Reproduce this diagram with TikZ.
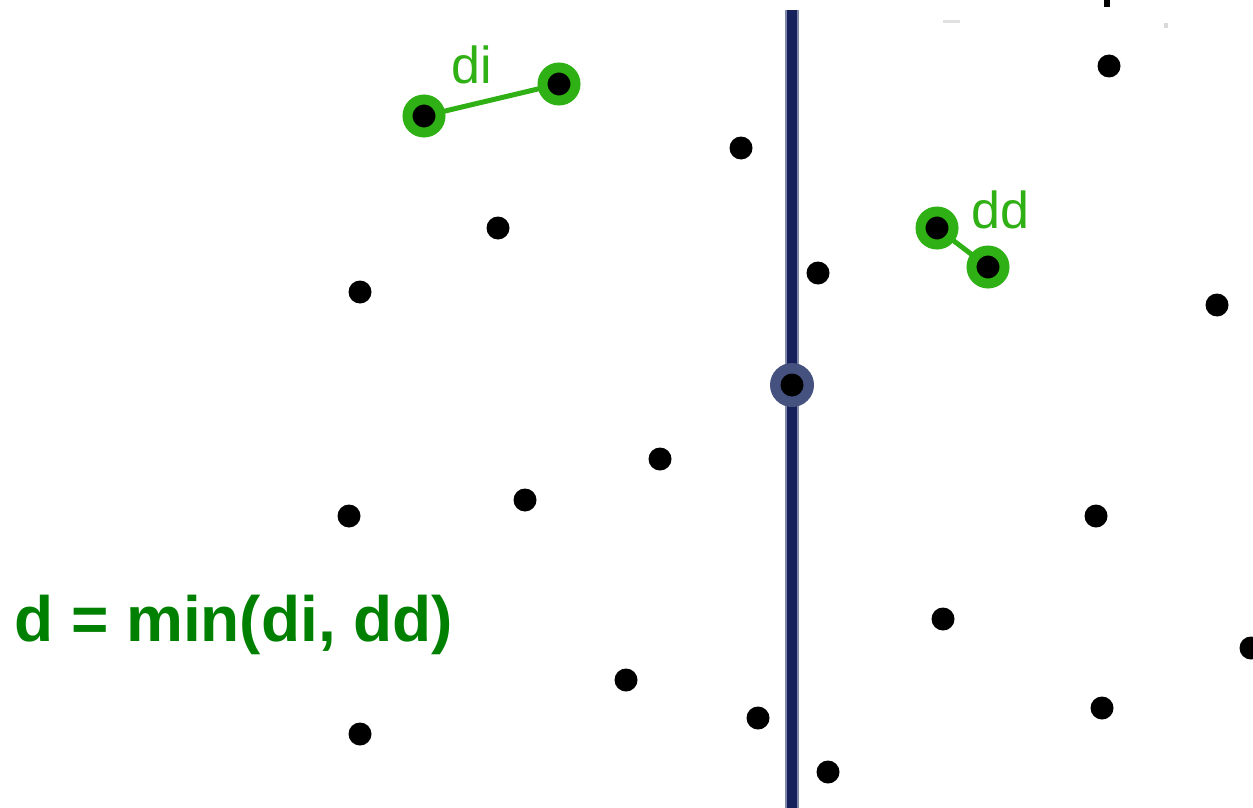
\documentclass[tikz,border=0pt]{standalone}
\usepackage{fontspec}
\setmainfont{Liberation Sans}
\definecolor{navy}{HTML}{16205A}
\definecolor{navyedge}{HTML}{8088AA}
\definecolor{halo}{HTML}{45517F}
\definecolor{ptgreen}{HTML}{2FB014}
\definecolor{textgreen}{HTML}{008000}
\begin{document}
\begin{tikzpicture}[x=1pt,y=-1pt,
  pt/.style={circle,fill=black,inner sep=0pt,minimum size=23pt},
  ring/.style={circle,fill=black,draw=ptgreen,line width=10pt,inner sep=0pt,minimum size=33pt},
  seg/.style={draw=ptgreen,line width=5pt},
  lbl/.style={text=ptgreen,font=\fontsize{52}{60}\selectfont,inner sep=0pt}]
\useasboundingbox (0,0) rectangle (1253,808);
\clip (0,0) rectangle (1253,808);
% dividing line
\coordinate (ltop) at (792,10);
\coordinate (lbot) at (792,812);
\draw[navyedge,line width=14pt] (ltop) -- (lbot);
\draw[navy,line width=10pt] (ltop) -- (lbot);
% small artifacts at top
\fill[black] (1104,0) rectangle (1110,7);
\fill[black!12] (943,20) rectangle (960,23);
\fill[black!15] (1164,23) rectangle (1168,28);
% median point with halo
\node[circle,fill=halo,inner sep=0pt,minimum size=44pt] (mh) at (792,385) {};
\node[pt] (m) at (792,385) {};
% points
\node[pt] (p1) at (1109,66) {};
\node[pt] (p2) at (741,148) {};
\node[pt] (p3) at (498,228) {};
\node[pt] (p4) at (360,292) {};
\node[pt] (p5) at (818,273) {};
\node[pt] (p6) at (1217,305) {};
\node[pt] (p7) at (660,459) {};
\node[pt] (p8) at (525,500) {};
\node[pt] (p9) at (349,516) {};
\node[pt] (p10) at (1096,516) {};
\node[pt] (p11) at (943,619) {};
\node[pt] (p12) at (1251,648) {};
\node[pt] (p13) at (626,680) {};
\node[pt] (p14) at (360,734) {};
\node[pt] (p15) at (758,718) {};
\node[pt] (p16) at (1102,708) {};
\node[pt] (p17) at (828,772) {};
% closest pairs
\coordinate (a1) at (424,116);
\coordinate (a2) at (559,84);
\coordinate (b1) at (937,228);
\coordinate (b2) at (988,267);
\draw[seg] (a1) -- (a2);
\draw[seg] (b1) -- (b2);
\node[ring] (di1) at (a1) {};
\node[ring] (di2) at (a2) {};
\node[ring] (dd1) at (b1) {};
\node[ring] (dd2) at (b2) {};
\node[lbl,anchor=base] (ldi) at (472,83) {di};
\node[lbl,anchor=base] (ldd) at (1000,228) {dd};
% formula
\node[anchor=base west,inner sep=0pt,text=textgreen,font=\bfseries\fontsize{64}{70}\selectfont] (f) at (14,641) {d = min(di, dd)};
\end{tikzpicture}
\end{document}
